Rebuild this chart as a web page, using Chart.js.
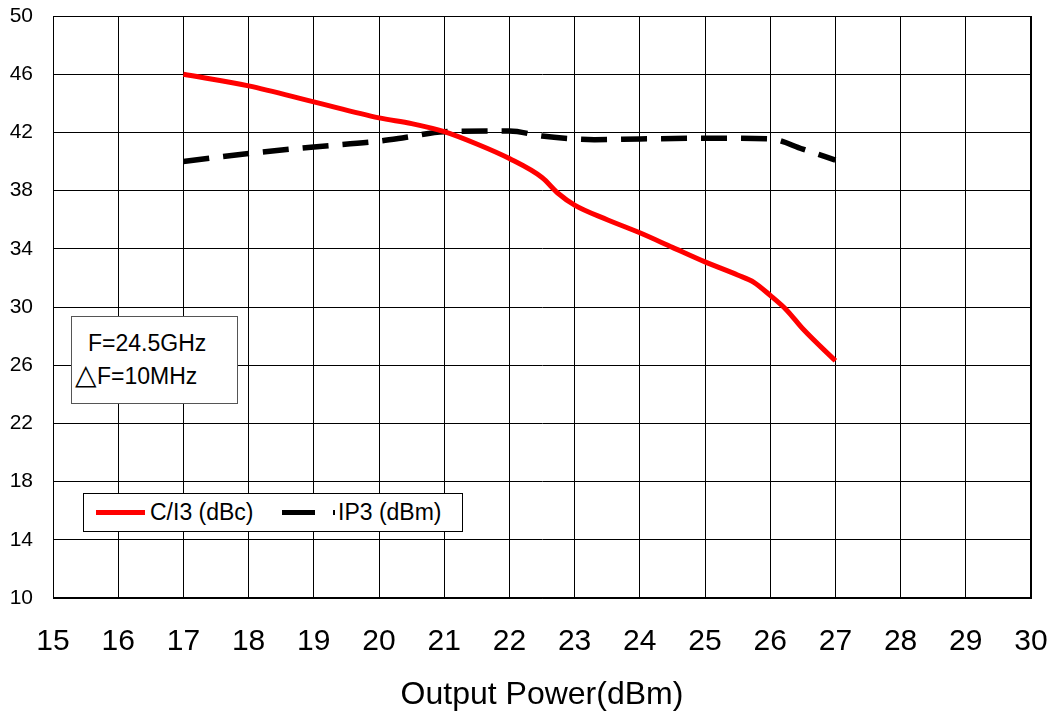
<!DOCTYPE html>
<html>
<head>
<meta charset="utf-8">
<script src="https://cdn.jsdelivr.net/npm/chart.js@4"></script>
<style>
  body { margin: 0; background: #fff; }
  #wrap { position: relative; width: 1057px; height: 715px; font-family: "Liberation Sans", Arial, sans-serif; }
  #chart { position: absolute; left: 0; top: 0; }
  .box { position: absolute; background: #fff; box-sizing: border-box; }
  .txt { position: absolute; font-size: 23px; line-height: 26px; white-space: nowrap; color: #000; }
  .seg { position: absolute; height: 5px; }
</style>
</head>
<body>
<div id="wrap">
  <canvas id="chart" width="1057" height="715"></canvas>
  <div class="box" style="left:71px;top:316px;width:167px;height:88px;border:1px solid #555;"></div>
  <span class="txt" style="left:88px;top:330px;">F=24.5GHz</span>
  <span class="txt" style="left:75px;top:362px;"><span style="font-size:28px;line-height:26px;">△</span>F=10MHz</span>
  <div class="box" style="left:83px;top:493px;width:380px;height:39px;border:1px solid #000;"></div>
  <div class="seg" style="left:96px;top:510px;width:49px;background:#ff0000;"></div>
  <span class="txt" style="left:150px;top:499px;">C/I3 (dBc)</span>
  <div class="seg" style="left:282px;top:510px;width:33px;background:#000;"></div>
  <div class="seg" style="left:333px;top:510px;width:2px;background:#000;"></div>
  <span class="txt" style="left:338px;top:499px;">IP3 (dBm)</span>
</div>
<script>
// C/I3 (dBc) vs output power
const ciX = [17, 18, 19, 20, 20.5, 21, 21.5, 22, 22.5, 22.75, 23, 23.5, 24, 24.5, 25, 25.5, 25.75, 26, 26.25, 26.5, 27];
const ciY = [46.0, 45.2, 44.1, 43.0, 42.6, 42.05, 41.2, 40.2, 38.9, 37.8, 37.0, 36.0, 35.1, 34.1, 33.1, 32.2, 31.7, 30.8, 29.8, 28.5, 26.3];
// IP3 (dBm) vs output power
const ipX = [17, 18, 19, 20, 20.4, 21, 22, 22.5, 23, 23.3, 24, 25, 26, 26.5, 27];
const ipY = [40.0, 40.55, 41.0, 41.4, 41.65, 42.05, 42.1, 41.75, 41.55, 41.5, 41.55, 41.6, 41.55, 40.85, 40.1];
// axis ticks
const xTicks = [15, 16, 17, 18, 19, 20, 21, 22, 23, 24, 25, 26, 27, 28, 29, 30];
const yTicks = [10, 14, 18, 22, 26, 30, 34, 38, 42, 46, 50];

const font = 'Liberation Sans, Arial, sans-serif';
const pts = (xs, ys) => xs.map((x, i) => ({ x, y: ys[i] }));

new Chart(document.getElementById('chart'), {
  type: 'line',
  data: {
    datasets: [
      { label: 'C/I3 (dBc)', data: pts(ciX, ciY), borderColor: '#ff0000', borderWidth: 5, pointRadius: 0, cubicInterpolationMode: 'monotone', fill: false },
      { label: 'IP3 (dBm)', data: pts(ipX, ipY), borderColor: '#000', borderWidth: 5.5, borderDash: [26, 14], pointRadius: 0, cubicInterpolationMode: 'monotone', fill: false }
    ]
  },
  options: {
    responsive: false,
    animation: false,
    layout: { padding: { top: 16, right: 26, left: 0, bottom: 0 } },
    plugins: { legend: { display: false }, tooltip: { enabled: false } },
    scales: {
      x: {
        type: 'linear',
        min: xTicks[0], max: xTicks[xTicks.length - 1],
        afterBuildTicks: s => { s.ticks = xTicks.map(v => ({ value: v })); },
        afterFit: s => { s.height = 117; s.paddingLeft = 0; s.paddingRight = 0; },
        border: { color: '#000', width: 1 },
        grid: { color: '#000', lineWidth: 1, drawTicks: false },
        ticks: { color: '#000', padding: 26, maxRotation: 0, font: { family: font, size: 30 } },
        title: { display: true, text: 'Output Power(dBm)', color: '#000', padding: { top: 0, bottom: 1 }, font: { family: font, size: 32 } }
      },
      y: {
        min: yTicks[0], max: yTicks[yTicks.length - 1],
        afterBuildTicks: s => { s.ticks = yTicks.map(v => ({ value: v })); },
        afterFit: s => { s.width = 53; s.paddingTop = 0; s.paddingBottom = 0; },
        border: { color: '#000', width: 1 },
        grid: { color: '#000', lineWidth: 1, drawTicks: false },
        ticks: { color: '#000', padding: 20, font: { family: font, size: 21 } }
      }
    }
  },
  plugins: [{
    id: 'frame',
    afterDraw(c) {
      const a = c.chartArea, ctx = c.ctx;
      ctx.save();
      ctx.strokeStyle = '#000';
      ctx.lineWidth = 1;
      ctx.strokeRect(a.left + 0.5, a.top + 0.5, a.width - 1, a.height - 1);
      ctx.restore();
    }
  }]
});
</script>
</body>
</html>
